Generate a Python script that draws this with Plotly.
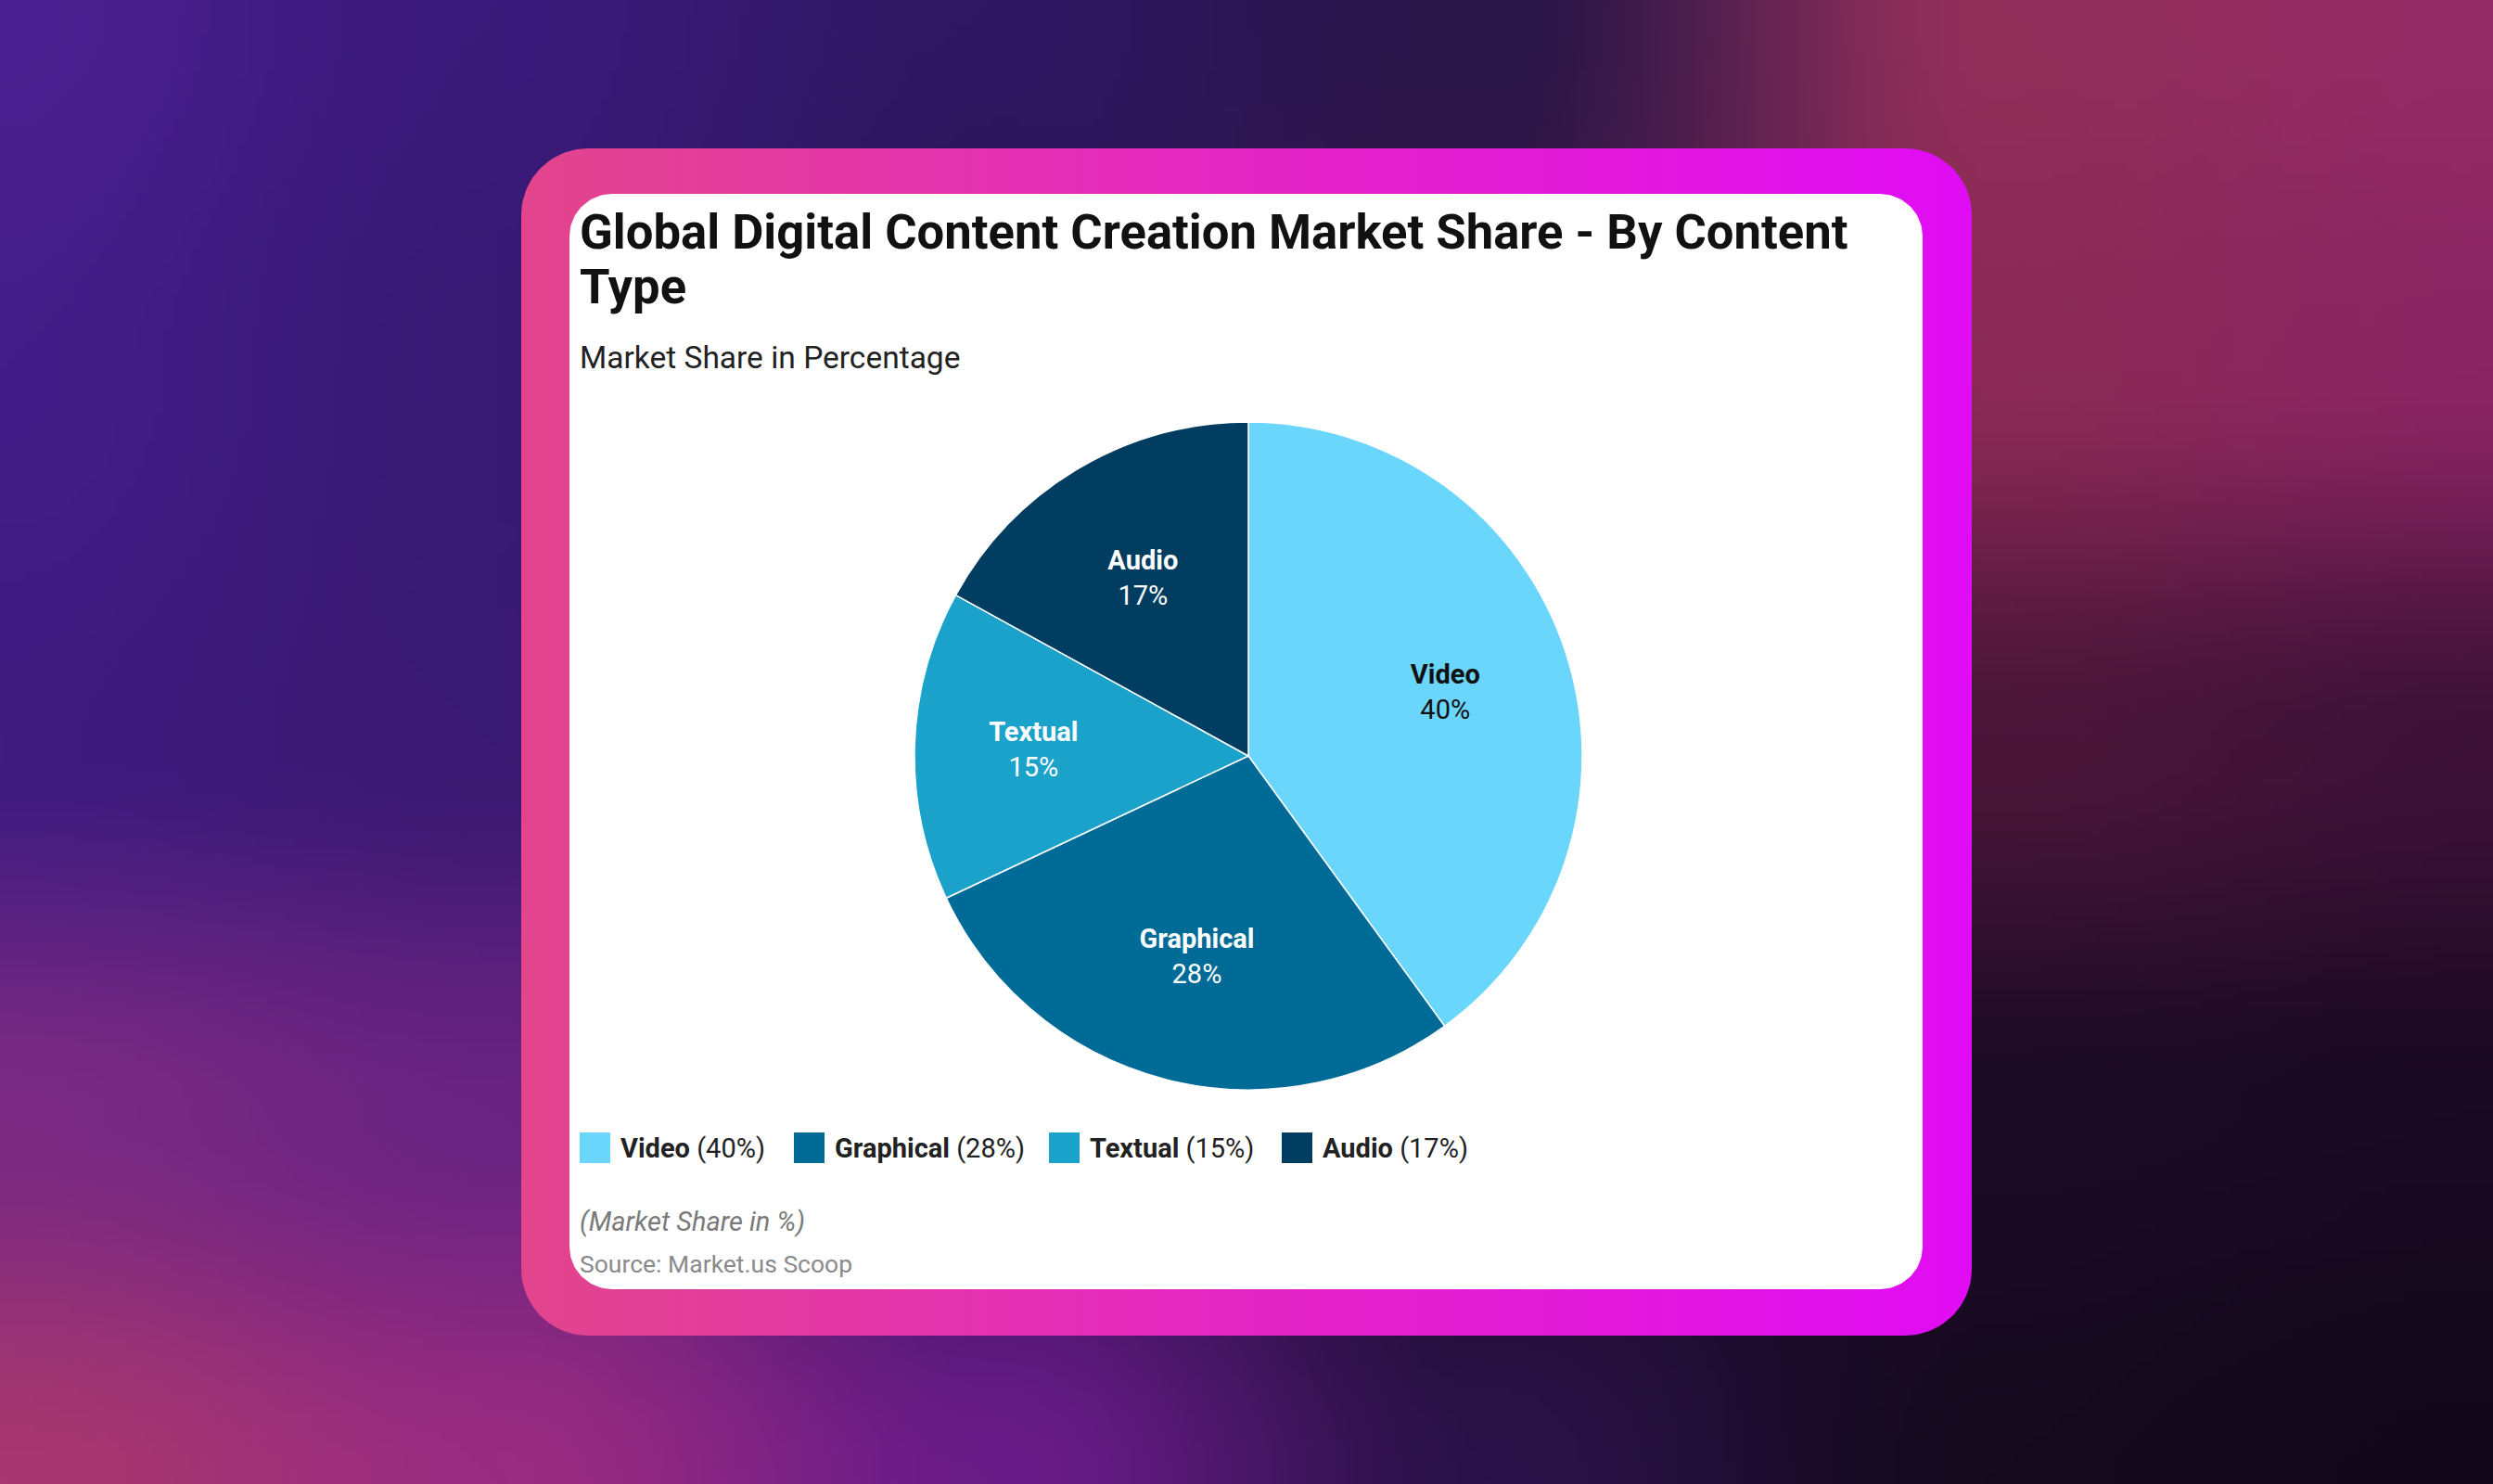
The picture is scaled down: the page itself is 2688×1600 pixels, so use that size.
import base64
import struct
import zlib

import numpy as np
import plotly.graph_objects as go

W, H = 2688, 1600

# chart data
categories = ["Video", "Graphical", "Textual", "Audio"]
shares = [40, 28, 15, 17]
slice_colors = ["#6AD6FC", "#016B97", "#1AA2CB", "#013D60"]
label_colors = ["#111111", "#FFFFFF", "#FFFFFF", "#FFFFFF"]

title_lines = ["Global Digital Content Creation Market Share - By Content", "Type"]
subtitle_text = "Market Share in Percentage"
note_text = "(Market Share in %)"
source_text = "Source: Market.us Scoop"

# background colour grid (rows top->bottom, cols left->right)
bg_grid = [
    ["#4A2090", "#3A1A7A", "#2E1862", "#2A1648", "#92305A", "#962C66"],
    ["#431E88", "#371A74", "#2A1658", "#3A1848", "#8A2A55", "#8A2562"],
    ["#3E1C80", "#3A1A72", "#2A1450", "#2E1238", "#4A1638", "#3E1238"],
    ["#7A2A82", "#6A2482", "#3A1660", "#1E0C2C", "#1C0C26", "#1A0A22"],
    ["#A8386E", "#9A2C80", "#6A1C88", "#2A1248", "#150A1E", "#100818"],
]
frame_scale = [[0.0, "#E2458C"], [0.5, "#E426C4"], [1.0, "#E00CF4"]]


def hex_rgb(c):
    c = c.lstrip("#")
    return [int(c[i:i + 2], 16) for i in (0, 2, 4)]


def gradient_png(grid, w=268, h=160):
    g = np.array([[hex_rgb(c) for c in row] for row in grid], dtype=float)
    rows, cols, _ = g.shape
    xs = np.linspace(0, cols - 1, w)
    ys = np.linspace(0, rows - 1, h)
    xi = np.minimum(np.floor(xs).astype(int), cols - 2)
    yi = np.minimum(np.floor(ys).astype(int), rows - 2)
    tx = xs - xi
    ty = ys - yi
    tx = tx * tx * (3 - 2 * tx)
    ty = ty * ty * (3 - 2 * ty)
    top = g[yi][:, xi] * (1 - tx)[None, :, None] + g[yi][:, xi + 1] * tx[None, :, None]
    bot = g[yi + 1][:, xi] * (1 - tx)[None, :, None] + g[yi + 1][:, xi + 1] * tx[None, :, None]
    img = top * (1 - ty)[:, None, None] + bot * ty[:, None, None]
    img = np.clip(img, 0, 255).astype(np.uint8)

    raw = b"".join(b"\x00" + img[r].tobytes() for r in range(h))

    def chunk(tag, data):
        out = struct.pack(">I", len(data)) + tag + data
        return out + struct.pack(">I", zlib.crc32(tag + data) & 0xFFFFFFFF)

    png = (b"\x89PNG\r\n\x1a\n"
           + chunk(b"IHDR", struct.pack(">IIBBBBB", w, h, 8, 2, 0, 0, 0))
           + chunk(b"IDAT", zlib.compress(raw, 9))
           + chunk(b"IEND", b""))
    return "data:image/png;base64," + base64.b64encode(png).decode()


def rounded_rect(x0, y0, x1, y1, r, n=24):
    xs, ys = [], []
    corners = [(x1 - r, y0 + r, -90, 0), (x1 - r, y1 - r, 0, 90),
               (x0 + r, y1 - r, 90, 180), (x0 + r, y0 + r, 180, 270)]
    for cx, cy, a0, a1 in corners:
        a = np.radians(np.linspace(a0, a1, n))
        xs += list(cx + r * np.cos(a))
        ys += list(cy + r * np.sin(a))
    xs.append(xs[0])
    ys.append(ys[0])
    return xs, ys


def pie_domain(cx, cy, r):
    return dict(x=[(cx - r) / W, (cx + r) / W], y=[1 - (cy + r) / H, 1 - (cy - r) / H])


fig = go.Figure()

# pink frame
fx, fy = rounded_rect(562, 160, 2126, 1440, 72)
fig.add_trace(go.Scatter(x=fx, y=fy, mode="lines", line_width=0, fill="toself",
                         fillgradient=dict(type="horizontal", colorscale=frame_scale),
                         hoverinfo="skip", showlegend=False))

# white card
cx, cy = rounded_rect(614, 209, 2073, 1390, 46)
fig.add_trace(go.Scatter(x=cx, y=cy, mode="lines", line_width=0, fill="toself",
                         fillcolor="#FFFFFF", hoverinfo="skip", showlegend=False))

PIE_CX, PIE_CY, PIE_R = 1346, 815, 360

# the slices
fig.add_trace(go.Pie(
    labels=categories,
    values=shares,
    sort=False,
    direction="clockwise",
    rotation=0,
    marker=dict(colors=slice_colors, line=dict(color="#FFFFFF", width=1.5)),
    textinfo="none",
    domain=pie_domain(PIE_CX, PIE_CY, PIE_R),
    hoverinfo="skip",
    showlegend=False,
))

# transparent overlays that only carry the slice labels, so the labels
# sit at roughly the same distance from the centre as in the original
big = [True, True, False, False]
label_tpl = "<b>%{label}</b><br>%{value}%"
for keep, hole, r in [(True, 0.24, PIE_R), (False, 0.0, 337)]:
    fig.add_trace(go.Pie(
        labels=categories,
        values=shares,
        sort=False,
        direction="clockwise",
        rotation=0,
        hole=hole,
        marker=dict(colors=["rgba(0,0,0,0)"] * len(categories), line=dict(width=0)),
        texttemplate=[label_tpl if b == keep else "" for b in big],
        textposition="inside",
        insidetextorientation="horizontal",
        textfont=dict(family="Roboto", size=29, color=label_colors),
        domain=pie_domain(PIE_CX, PIE_CY, r),
        hoverinfo="skip",
        showlegend=False,
    ))

annotations = [
    dict(x=623, y=250, text="<b>" + title_lines[0] + "</b>", xanchor="left", yanchor="middle",
         font=dict(family="Roboto", size=52.6, color="#111111")),
    dict(x=623, y=309, text="<b>" + title_lines[1] + "</b>", xanchor="left", yanchor="middle",
         font=dict(family="Roboto", size=52.6, color="#111111")),
    dict(x=623, y=385, text=subtitle_text, xanchor="left", yanchor="middle",
         font=dict(family="Roboto", size=33.5, color="#222222")),
    dict(x=623, y=1317, text="<i>" + note_text + "</i>", xanchor="left", yanchor="middle",
         font=dict(family="Roboto", size=29, color="#7A7A7A")),
    dict(x=623, y=1362, text=source_text, xanchor="left", yanchor="middle",
         font=dict(family="Roboto", size=26.5, color="#8A8A8A")),
]

# legend row
legend_x = [625, 856, 1131, 1382]
shapes = []
for lx, name, val, col in zip(legend_x, categories, shares, slice_colors):
    shapes.append(dict(type="rect", xref="x", yref="y", x0=lx, x1=lx + 33, y0=1221, y1=1254,
                       fillcolor=col, line_width=0))
    annotations.append(dict(x=lx + 42, y=1238, text=f"<b>{name}</b> ({val}%)",
                            xanchor="left", yanchor="middle",
                            font=dict(family="Roboto", size=29, color="#222222")))

for a in annotations:
    a.update(xref="x", yref="y", showarrow=False)

fig.update_layout(
    width=W, height=H,
    margin=dict(l=0, r=0, t=0, b=0),
    paper_bgcolor="#2A1450",
    plot_bgcolor="rgba(0,0,0,0)",
    xaxis=dict(range=[0, W], visible=False, domain=[0, 1], fixedrange=True),
    yaxis=dict(range=[H, 0], visible=False, domain=[0, 1], fixedrange=True),
    images=[dict(source=gradient_png(bg_grid), xref="paper", yref="paper", x=0, y=1,
                 sizex=1, sizey=1, sizing="stretch", xanchor="left", yanchor="top",
                 layer="below")],
    shapes=shapes,
    annotations=annotations,
    showlegend=False,
)

fig.write_html("out.html", config={"displayModeBar": False},
               post_script="document.body.style.margin = '0';")
